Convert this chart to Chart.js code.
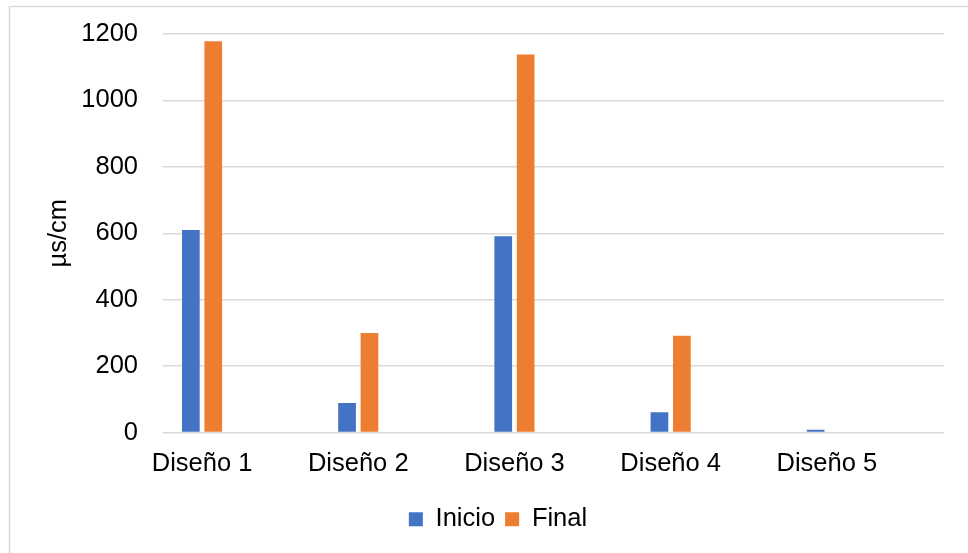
<!DOCTYPE html>
<html>
<head>
<meta charset="utf-8">
<script src="https://cdn.jsdelivr.net/npm/chart.js@4"></script>
<style>
  html, body { margin: 0; padding: 0; background: #ffffff; }
  #wrap { width: 968px; height: 553px; position: relative; }
</style>
</head>
<body>
<div id="wrap"><canvas id="chart" width="968" height="553"></canvas></div>
<script>
// Conductividad medida al inicio y al final de cada diseño
const categories = ['Diseño 1', 'Diseño 2', 'Diseño 3', 'Diseño 4', 'Diseño 5'];
const inicio = [610, 89, 591, 61, 8];
const final = [1178, 300, 1138, 291, 0];
const yTicks = [0, 200, 400, 600, 800, 1000, 1200];

const FONT = { family: '"Liberation Sans", Arial, sans-serif', size: 25.5 };
const TEXT = '#000000';
const GRID = '#d9d9d9';

const toPoints = arr => arr.map((v, i) => ({ x: i, y: v }));

// White background with the light frame along the top and left edges
const framePlugin = {
  id: 'frame',
  beforeDraw(chart) {
    const ctx = chart.ctx;
    ctx.save();
    ctx.fillStyle = '#ffffff';
    ctx.fillRect(0, 0, chart.width, chart.height);
    ctx.strokeStyle = GRID;
    ctx.lineWidth = 1.5;
    ctx.beginPath();
    ctx.moveTo(9.5, chart.height + 2);
    ctx.lineTo(9.5, 6.5);
    ctx.lineTo(chart.width + 2, 6.5);
    ctx.stroke();
    ctx.restore();
  }
};

// Nudge the legend row so it sits where the chart frame centres it
const legendShift = {
  id: 'legendShift',
  afterLayout(chart) {
    const lg = chart.legend;
    if (lg) { lg.left += 4; lg.right += 4; }
  }
};

new Chart(document.getElementById('chart'), {
  type: 'bar',
  data: {
    datasets: [
      { label: 'Inicio', data: toPoints(inicio), backgroundColor: '#4472c4', borderWidth: 0 },
      { label: 'Final', data: toPoints(final), backgroundColor: '#ed7d31', borderWidth: 0 }
    ]
  },
  options: {
    responsive: false,
    animation: false,
    devicePixelRatio: 1,
    categoryPercentage: 0.287,
    barPercentage: 0.79,
    layout: { padding: { left: 44, top: 34, right: 24, bottom: 11 } },
    plugins: {
      legend: {
        position: 'bottom',
        labels: {
          color: TEXT,
          font: FONT,
          boxWidth: 14,
          boxHeight: 14,
          padding: 10
        }
      },
      tooltip: { enabled: false }
    },
    scales: {
      x: {
        type: 'linear',
        offset: false,
        min: -0.25,
        max: 4.75,
        grid: { display: false, drawTicks: false },
        border: { display: false },
        afterBuildTicks(scale) {
          scale.ticks = categories.map((_, i) => ({ value: i }));
        },
        afterFit(scale) { scale.height = 64; },
        ticks: {
          color: TEXT,
          font: FONT,
          padding: 16,
          autoSkip: false,
          maxRotation: 0,
          callback: v => categories[v]
        }
      },
      y: {
        min: 0,
        max: 1200,
        grid: { color: GRID, lineWidth: 1.5, drawTicks: false },
        border: { display: false },
        afterBuildTicks(scale) {
          scale.ticks = yTicks.map(v => ({ value: v }));
        },
        afterFit(scale) {
          scale.width = 119;
          // keep only half a label of overhang above and below the plot
          scale.paddingTop = 16;
          scale.paddingBottom = 16;
        },
        title: {
          display: true,
          text: 'µs/cm',
          color: TEXT,
          font: FONT,
          padding: { top: 0, bottom: 0 }
        },
        ticks: {
          color: TEXT,
          font: FONT,
          padding: 25,
          callback: v => String(v)
        }
      }
    }
  },
  plugins: [framePlugin, legendShift]
});
</script>
</body>
</html>
